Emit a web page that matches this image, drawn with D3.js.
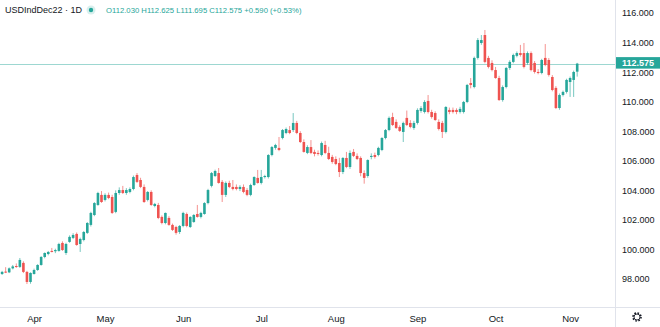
<!DOCTYPE html>
<html><head><meta charset="utf-8">
<script src="https://cdn.jsdelivr.net/npm/d3@7"></script>
<style>
html,body{margin:0;padding:0;background:#fff;}
svg{display:block;font-family:"Liberation Sans",Arial,sans-serif;}
</style></head>
<body>
<svg id="chart" width="660" height="327"></svg>
<script>
// ---- data ----
const symbol = "USDIndDec22 · 1D";
const firstDay = "2022-03-18";
const lastDay = "2022-11-03";
const holidays = ["2022-04-15"];
const yTicks = [98, 100, 102, 104, 106, 108, 110, 112, 114, 116];
const lastBar = {o: 112.030, h: 112.625, l: 111.695, c: 112.575, chg: 0.590, pct: 0.53};

const open = [
98.55,98.34,98.50,98.45,98.72,98.88,98.82,99.09,98.48,97.80,
98.34,98.61,98.95,99.49,99.69,99.90,99.88,99.90,100.44,99.76,
100.51,100.78,101.05,100.37,100.64,101.12,101.66,102.33,103.01,103.69,
103.35,103.69,103.55,102.54,103.82,104.02,103.82,103.89,104.09,105.04,
104.70,104.23,103.35,103.89,102.94,103.01,102.20,101.79,102.13,101.66,
101.52,101.18,101.59,102.40,101.52,101.86,102.40,102.20,102.40,103.14,
104.30,104.97,105.17,104.57,103.69,104.50,104.23,104.23,104.09,104.23,
104.02,103.69,104.36,104.84,104.50,104.90,104.90,106.39,106.87,106.87,
107.54,107.88,108.08,108.08,108.56,107.88,107.27,106.53,106.93,106.60,
106.53,106.39,107.07,106.53,106.26,106.12,105.85,105.24,106.19,105.58,
106.60,106.33,106.19,105.17,104.97,106.26,106.39,106.39,106.73,107.54,
108.08,108.96,108.63,108.29,107.95,108.90,108.56,108.22,108.56,109.37,
109.30,110.05,109.30,109.23,108.63,108.56,107.95,109.44,109.44,109.44,
109.30,109.30,109.98,111.26,110.99,112.96,113.97,114.51,112.96,112.62,
112.14,111.60,110.11,110.99,112.28,112.69,113.10,113.29,113.29,112.62,
113.29,112.62,112.01,111.94,112.96,112.82,111.67,110.93,109.57,110.45,
110.66,111.33,111.47,112.03
];
const high = [
98.70,98.55,98.80,98.78,98.95,99.05,99.42,99.20,98.55,98.45,
98.70,99.00,99.55,99.80,99.90,100.10,100.05,100.45,100.55,100.45,
100.95,101.10,101.15,100.80,101.25,101.85,102.55,103.20,103.90,103.95,
103.80,103.85,103.70,104.00,104.20,104.30,104.15,104.20,105.00,105.17,
104.85,104.40,103.95,104.00,103.15,103.15,102.30,102.50,102.25,101.75,
101.60,101.65,102.55,102.50,102.25,102.40,103.01,102.55,103.20,104.10,
105.24,105.40,105.51,104.70,104.60,104.65,104.70,104.40,104.35,104.40,
104.15,104.45,104.95,105.38,105.38,105.05,106.45,107.00,107.15,107.61,
108.15,108.25,108.35,109.23,108.70,108.00,107.45,107.05,107.40,106.75,
106.70,107.30,107.35,106.95,106.40,106.30,106.20,106.25,106.60,106.70,
106.80,106.50,106.30,105.35,106.10,106.50,106.55,106.95,107.60,108.15,
109.00,109.25,108.80,108.40,108.65,109.40,108.75,108.70,109.55,109.70,
110.10,110.45,109.45,109.35,108.80,108.70,109.70,109.60,109.60,109.55,
109.65,110.05,111.20,111.60,113.05,114.30,114.51,114.85,113.10,112.80,
112.35,111.75,111.10,112.35,112.80,113.25,113.40,113.84,113.97,113.40,
113.40,112.75,112.20,112.90,113.90,112.95,111.80,111.05,110.55,110.75,
111.55,111.70,112.10,112.625
];
const low = [
98.45,98.27,98.40,98.40,98.65,98.75,98.75,98.40,97.66,97.68,
98.30,98.55,98.90,99.40,99.60,99.80,99.75,99.85,99.90,99.63,
100.45,100.70,100.25,99.83,100.55,101.05,101.55,102.25,102.95,103.15,
103.25,103.40,102.40,102.45,103.70,103.75,103.70,103.80,104.00,104.50,
104.15,103.15,103.25,102.95,102.85,102.05,101.70,101.70,101.60,101.25,
101.00,101.05,101.50,101.50,101.45,101.80,102.15,102.10,102.35,103.05,
104.20,104.90,104.45,103.21,103.55,104.15,104.00,104.00,103.95,103.80,
103.60,103.60,104.30,104.45,104.40,104.80,104.80,106.30,106.75,106.65,
107.45,107.80,107.80,107.95,107.80,107.20,106.55,106.45,106.45,106.30,
106.35,106.30,106.45,106.05,105.80,105.70,104.90,105.10,105.50,105.45,
106.25,106.05,104.95,104.45,104.85,106.10,106.15,106.30,106.65,107.45,
108.00,108.35,108.15,107.95,107.27,108.35,108.20,108.10,108.45,109.25,
109.20,109.20,108.85,108.70,108.05,107.54,107.85,109.15,109.20,109.15,
109.20,109.20,109.90,110.90,110.90,112.85,113.85,112.60,112.25,112.05,
111.55,110.05,110.00,110.90,112.15,112.60,113.00,113.05,112.25,112.50,
112.05,111.90,111.85,111.85,112.40,111.70,110.70,109.50,109.45,110.35,
110.55,110.32,110.32,111.695
];
const close = [
98.50,98.48,98.45,98.72,98.85,98.82,99.29,98.48,97.80,98.41,
98.61,98.95,99.49,99.76,99.83,99.83,99.96,100.37,99.96,100.37,
100.85,100.98,100.30,100.71,101.18,101.79,102.47,103.14,103.82,103.21,
103.69,103.48,102.47,103.82,104.02,103.82,104.02,104.09,104.90,104.57,
104.23,103.21,103.89,103.01,103.08,102.13,101.79,102.47,101.66,101.32,
101.12,101.59,102.47,101.59,102.20,102.33,102.20,102.47,103.14,104.02,
105.17,105.31,104.50,103.69,104.50,104.23,104.09,104.09,104.23,103.89,
103.69,104.36,104.90,104.50,104.90,104.97,106.39,106.93,107.07,106.73,
108.08,108.15,107.88,108.56,107.88,107.27,106.60,106.93,106.53,106.46,
106.46,107.20,106.53,106.12,105.92,105.78,105.24,106.19,105.58,106.53,
106.33,106.12,105.17,104.84,106.05,106.33,106.26,106.87,107.54,108.08,
108.90,108.42,108.22,108.02,108.56,108.42,108.29,108.56,109.44,109.57,
109.98,109.30,108.96,108.76,108.15,107.95,109.64,109.30,109.30,109.30,
109.51,109.98,111.13,111.13,112.96,114.17,114.17,112.69,112.35,112.14,
111.60,110.11,110.99,112.28,112.69,113.16,113.29,113.16,112.35,113.29,
112.14,112.01,111.94,112.82,112.48,111.81,110.79,109.57,110.45,110.66,
111.47,111.60,112.01,112.575
];

// ---- build trading-day categories ----
const parse = d3.utcParse("%Y-%m-%d");
const fmtKey = d3.utcFormat("%Y-%m-%d");
const dates = d3.utcDay.range(parse(firstDay), d3.utcDay.offset(parse(lastDay), 1))
  .filter(d => d.getUTCDay() !== 0 && d.getUTCDay() !== 6 && !holidays.includes(fmtKey(d)));
const bars = dates.map((d, i) => ({date: d, o: open[i], h: high[i], l: low[i], c: close[i]}));

// ---- layout ----
const W = 660, H = 327;
const plotRight = 615, plotBottom = 307.5;
const UP = "#26a69a", DOWN = "#ef5350", TXT = "#131722", LINE = "#e0e3eb";

const svg = d3.select("#chart");

const x = d3.scalePoint().domain(dates.map(fmtKey)).range([-1.45, 577.2]);
const y = d3.scaleLinear().domain([98, 116]).range([279, 13]);

svg.append("defs").append("clipPath").attr("id", "plotclip")
  .append("rect").attr("x", 0).attr("y", 0).attr("width", plotRight).attr("height", plotBottom);

// frame lines
svg.append("line").attr("x1", 0).attr("x2", W).attr("y1", plotBottom).attr("y2", plotBottom)
  .attr("stroke", LINE).attr("stroke-width", 1);
svg.append("line").attr("x1", plotRight + 0.5).attr("x2", plotRight + 0.5).attr("y1", 0).attr("y2", H)
  .attr("stroke", LINE).attr("stroke-width", 1);

const plot = svg.append("g").attr("clip-path", "url(#plotclip)");

// last price line
plot.append("line").attr("x1", 0).attr("x2", plotRight)
  .attr("y1", Math.round(y(lastBar.c)) + 0.5).attr("y2", Math.round(y(lastBar.c)) + 0.5)
  .attr("stroke", UP).attr("stroke-opacity", 0.45).attr("stroke-width", 1);

// candles
const bodyW = 2.6;
const g = plot.selectAll("g.candle").data(bars).join("g").attr("class", "candle");
g.append("line")
  .attr("x1", d => x(fmtKey(d.date))).attr("x2", d => x(fmtKey(d.date)))
  .attr("y1", d => y(d.h)).attr("y2", d => y(d.l))
  .attr("stroke", d => d.c >= d.o ? UP : DOWN).attr("stroke-width", 0.9).attr("stroke-opacity", 0.7);
g.append("rect")
  .attr("x", d => x(fmtKey(d.date)) - bodyW / 2)
  .attr("width", bodyW)
  .attr("y", d => y(Math.max(d.o, d.c)))
  .attr("height", d => Math.max(1, Math.abs(y(d.o) - y(d.c))))
  .attr("fill", d => d.c >= d.o ? UP : DOWN);

// right price axis
const yAxis = d3.axisRight(y).tickValues(yTicks).tickFormat(d3.format(".3f")).tickSize(0).tickPadding(7);
const ya = svg.append("g").attr("transform", `translate(${plotRight},0)`).call(yAxis);
ya.select(".domain").remove();
ya.selectAll("text").attr("fill", TXT).attr("font-size", 9).attr("font-family", "Liberation Sans, Arial, sans-serif");

// last price tag
const ly = y(lastBar.c);
svg.append("rect").attr("x", plotRight + 1).attr("y", ly - 6.5).attr("width", W - plotRight - 1).attr("height", 11.5)
  .attr("fill", UP);
svg.append("text").attr("x", plotRight + 7).attr("y", ly - 0.5).attr("dy", "0.35em")
  .attr("fill", "#fff").attr("font-size", 9).attr("font-weight", "bold").text(d3.format(".3f")(lastBar.c));

// bottom time axis: first trading day of each month
const monthStarts = dates.filter((d, i) => i > 0 && d.getUTCMonth() !== dates[i - 1].getUTCMonth());
const xAxis = d3.axisBottom(x).tickValues(monthStarts.map(fmtKey))
  .tickFormat(k => d3.utcFormat("%b")(parse(k))).tickSize(0).tickPadding(8);
const xa = svg.append("g").attr("transform", `translate(0,${plotBottom})`).call(xAxis);
xa.select(".domain").remove();
xa.selectAll("text").attr("fill", TXT).attr("font-size", 9.5).attr("font-family", "Liberation Sans, Arial, sans-serif");

// gear icon
const gear = svg.append("g").attr("transform", "translate(637,317)");
gear.append("circle").attr("r", 4).attr("fill", "none").attr("stroke", TXT).attr("stroke-width", 1.6)
  .attr("stroke-dasharray", "1.6 1.54");
gear.append("circle").attr("r", 3).attr("fill", "#fff").attr("stroke", TXT).attr("stroke-width", 0.9);
gear.append("circle").attr("r", 1.2).attr("fill", "#fff");

// header legend
svg.append("text").attr("x", 5).attr("y", 10).attr("dy", "0.35em")
  .attr("fill", TXT).attr("font-size", 9).text(symbol);
svg.append("circle").attr("cx", 91).attr("cy", 10).attr("r", 4.5).attr("fill", UP).attr("fill-opacity", 0.18);
svg.append("circle").attr("cx", 91).attr("cy", 10).attr("r", 2.2).attr("fill", UP);
const f3 = d3.format(".3f");
const legend = `O${f3(lastBar.o)} H${f3(lastBar.h)} L${f3(lastBar.l)} C${f3(lastBar.c)} +${f3(lastBar.chg)} (+${lastBar.pct.toFixed(2)}%)`;
svg.append("text").attr("x", 106).attr("y", 10).attr("dy", "0.35em")
  .attr("fill", UP).attr("font-size", 7.7).text(legend);
</script>
</body></html>
